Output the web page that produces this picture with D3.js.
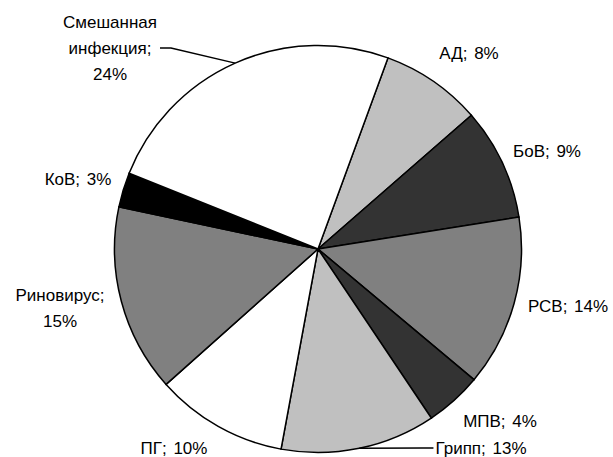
<!DOCTYPE html>
<html>
<head>
    <meta charset="utf-8">
    <style>
        body {
            margin: 0;
            background: #fff;
            font-family: "Liberation Sans", Arial, sans-serif;
        }

        .slice path {
            stroke: #000;
            stroke-width: 1.5px;
        }

        .label text {
            font-size: 17px;
            fill: #000;
            text-anchor: middle;
            dominant-baseline: central;
            word-spacing: 2px;
        }

        .leader {
            fill: none;
            stroke: #000;
            stroke-width: 1.5px;
        }
    </style>
    <script src="https://d3js.org/d3.v7.min.js"></script>
</head>
<body>
<div id="chart"></div>
<script>
    // slices, clockwise from the first one
    const categories = ['АД', 'БоВ', 'РСВ', 'МПВ', 'Грипп', 'ПГ', 'Риновирус', 'КоВ', 'Смешанная инфекция'];
    const shares = [8.0, 8.9, 13.6, 4.5, 12.3, 10.5, 14.9, 2.75, 24.5];
    const percentLabels = [8, 9, 14, 4, 13, 10, 15, 3, 24];                // as printed on the chart
    const fills = ['#c0c0c0', '#333333', '#808080', '#333333', '#c0c0c0', '#ffffff', '#808080', '#000000', '#ffffff'];

    // label text lines + where Excel put them (centre of the text block)
    const labelLines = [
        ['АД; 8%'],
        ['БоВ; 9%'],
        ['РСВ; 14%'],
        ['МПВ; 4%'],
        ['Грипп; 13%'],
        ['ПГ; 10%'],
        ['Риновирус;', '15%'],
        ['КоВ; 3%'],
        ['Смешанная', 'инфекция;', '24%']
    ];
    const labelPos = [[469, 53], [547, 151], [568, 306], [500, 421], [481, 448], [174, 448], [60, 308], [78, 179], [110, 48]];
    const leaders = [false, false, false, false, 'left', false, false, false, 'right'];

    const width = 613,
            height = 457,
            cx = 318,
            cy = 249,
            radius = 203.5,
            lineH = 26;

    const svg = d3.select('#chart').append('svg')
            .attr('width', width)
            .attr('height', height);

    const data = categories.map((c, i) => ({
        name: c, value: shares[i], pct: percentLabels[i], fill: fills[i],
        lines: labelLines[i], pos: labelPos[i], leader: leaders[i]
    }));

    const pie = d3.pie()
            .sort(null)
            .value(d => d.value)
            .startAngle(20.1 * Math.PI / 180)
            .endAngle(20.1 * Math.PI / 180 + 2 * Math.PI);

    const arc = d3.arc()
            .innerRadius(0)
            .outerRadius(radius);

    const arcs = pie(data);

    const g = svg.append('g').attr('transform', `translate(${cx},${cy})`);

    g.selectAll('g.slice')
            .data(arcs)
            .enter().append('g').attr('class', 'slice')
            .append('path')
            .style('fill', d => d.data.fill)
            .attr('d', arc);

    // labels
    const lab = svg.selectAll('g.label')
            .data(arcs)
            .enter().append('g').attr('class', 'label');

    lab.append('text')
            .each(function(d) {
                const t = d3.select(this);
                const n = d.data.lines.length;
                d.data.lines.forEach((s, k) => {
                    t.append('tspan')
                            .attr('x', d.data.pos[0])
                            .attr('y', d.data.pos[1] + (k - (n - 1) / 2) * lineH)
                            .text(s);
                });
            });

    // leader lines from the label to the middle of the slice's rim
    lab.filter(d => d.data.leader).each(function(d) {
        const bb = d3.select(this).select('text').node().getBBox();
        const mid = (d.startAngle + d.endAngle) / 2;
        const ax = cx + radius * Math.sin(mid),
                ay = cy - radius * Math.cos(mid);
        const y0 = d.data.pos[1];
        const x0 = d.data.leader === 'right' ? bb.x + bb.width + 3 : bb.x - 2;
        const x1 = d.data.leader === 'right' ? x0 + 11 : x0 - 11;
        d3.select(this).append('path')
                .attr('class', 'leader')
                .attr('d', d3.line()([[x0, y0], [x1, y0], [ax, ay]]));
    });
</script>
</body>
</html>
